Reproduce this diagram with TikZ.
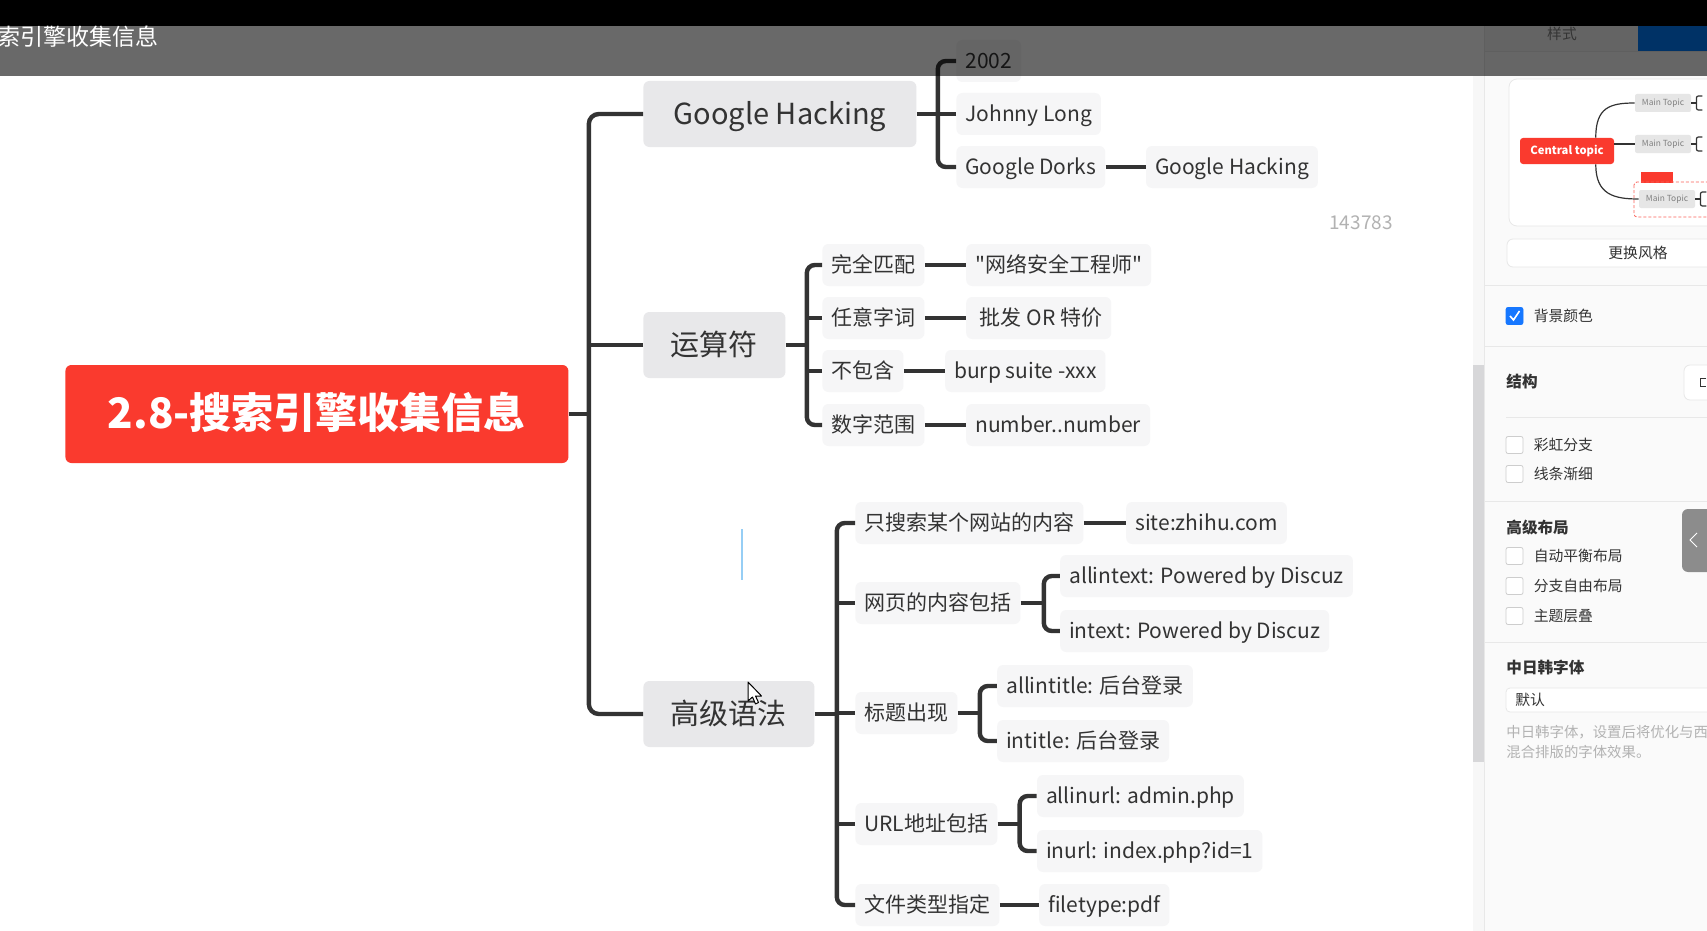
\documentclass[tikz,border=0pt]{standalone}
\usepackage{fontspec}
\setmainfont{Noto Sans CJK SC}[Ligatures=TeXOff]
\usepackage{xcolor}
\usepackage{tikz}
\usetikzlibrary{positioning}

\definecolor{mapred}{RGB}{250,58,46}
\definecolor{topicgray}{RGB}{232,232,234}
\definecolor{subgray}{RGB}{246,246,247}
\definecolor{ink}{RGB}{51,51,51}
\definecolor{panelbg}{RGB}{250,250,250}
\definecolor{panelline}{RGB}{232,232,232}
\definecolor{boxline}{RGB}{205,205,205}
\definecolor{hintgray}{RGB}{178,178,178}
\definecolor{checkblue}{RGB}{22,119,255}
\definecolor{tabblue}{RGB}{0,122,248}
\definecolor{cursorblue}{RGB}{150,206,245}
\definecolor{thumbgray}{RGB}{215,215,217}
\definecolor{minigray}{RGB}{230,230,230}

\begin{document}
\begin{tikzpicture}[x=0.5pt, y=-0.5pt,
    central/.style={fill=mapred, rounded corners=3pt, text=white, font=\fontsize{21}{25}\selectfont\bfseries,
        minimum width=251.5pt, minimum height=49pt, text height=17.9pt, text depth=3.1pt, anchor=west},
    maintopic/.style={fill=topicgray, rounded corners=3pt, text=ink, font=\fontsize{14.5}{17}\selectfont,
        minimum height=33pt, text height=12.3pt, text depth=2.2pt, anchor=west},
    subtopic/.style={fill=subgray, rounded corners=3pt, text=ink, font=\fontsize{10.5}{12}\selectfont,
        inner xsep=4.5pt, minimum height=21pt, text height=8.9pt, text depth=1.6pt, anchor=west},
    branch/.style={draw=ink, line width=2.2pt, rounded corners=4pt},
    paneltext/.style={font=\fontsize{7.4}{9}\selectfont, text=ink, anchor=west, inner sep=0pt},
    panelhead/.style={font=\fontsize{7.8}{9}\selectfont\bfseries, text=ink, anchor=west, inner sep=0pt},
    chkbox/.style={draw=boxline, fill=white, rounded corners=1pt, minimum size=8.5pt, inner sep=0pt},
    minicentral/.style={fill=mapred, rounded corners=1.5pt, text=white, font=\fontsize{5.6}{6}\selectfont\bfseries,
        minimum width=47pt, minimum height=13pt, inner sep=0pt},
    minitopic/.style={fill=minigray, rounded corners=1pt, text=gray, font=\fontsize{4.2}{5}\selectfont,
        minimum width=28pt, minimum height=9pt, inner sep=0pt},
    minilink/.style={draw=ink, line width=0.6pt}]

    \useasboundingbox (0,0) rectangle (1707,931);
    \fill[white] (0,0) rectangle (1707,931);

    % Central topic and main topics
    \node[central] (root) at (65,414) {2.8-搜索引擎收集信息};
    \node[maintopic, minimum width=136.5pt] (gh) at (643,114) {Google Hacking};
    \node[maintopic, minimum width=71pt] (ops) at (643,345) {运算符};
    \node[maintopic, minimum width=85.5pt] (adv) at (643,714) {高级语法};

    \draw[branch] (root.east) -- ++(20,0) coordinate (trunk);
    \draw[branch, rounded corners=5pt] (gh.west) -| (trunk) |- (adv.west);
    \draw[branch] (ops.west) -- (ops.west -| trunk);

    % Google Hacking
    \node[subtopic] (year) at (956,61) {2002};
    \node[subtopic] (author) at (956,114) {Johnny Long};
    \node[subtopic] (dorks) at (956,167) {Google Dorks};
    \node[subtopic, right=20pt of dorks] (dorksv) {Google Hacking};
    \draw[branch] (gh.east) -- ++(21,0) coordinate (ghj);
    \draw[branch] (year.west) -| (ghj) |- (dorks.west);
    \draw[branch] (author.west) -- (author.west -| ghj);
    \draw[branch] (dorks) -- (dorksv);

    % Operators: key / y / name / example
    \foreach \k/\y/\a/\b in {
        1/265/完全匹配/"网络安全工程师",
        2/318/任意字词/\ 批发 OR 特价,
        3/371/不包含/burp suite -xxx,
        4/425/数字范围/number..number
    } {
        \node[subtopic] (op\k) at (822,\y) {\a};
        \node[subtopic, right=20.5pt of op\k] (opv\k) {\b};
        \draw[branch] (op\k) -- (opv\k);
    }
    \draw[branch] (ops.east) -- ++(21,0) coordinate (opsj);
    \draw[branch] (op1.west) -| (opsj) |- (op4.west);
    \draw[branch] (op2.west) -- (op2.west -| opsj);
    \draw[branch] (op3.west) -- (op3.west -| opsj);

    % Advanced syntax
    \node[subtopic] (site) at (855,523) {只搜索某个网站的内容};
    \node[subtopic, right=21pt of site] (sitev) {site:zhihu.com};
    \draw[branch] (site) -- (sitev);

    \node[subtopic] (text) at (855,603) {网页的内容包括};
    \node[subtopic, right=19.5pt of text, yshift=13.5pt] (text1) {allintext: Powered by Discuz};
    \node[subtopic, right=19.5pt of text, yshift=-14pt] (text2) {intext: Powered by Discuz};
    \draw[branch] (text.east) -- ++(23,0) coordinate (textj);
    \draw[branch] (text1.west) -| (textj) |- (text2.west);

    \node[subtopic] (title) at (855,713) {标题出现};
    \node[subtopic, right=19.5pt of title, yshift=13.5pt] (title1) {allintitle: 后台登录};
    \node[subtopic, right=19.5pt of title, yshift=-14pt] (title2) {intitle: 后台登录};
    \draw[branch] (title.east) -- ++(22,0) coordinate (titlej);
    \draw[branch] (title1.west) -| (titlej) |- (title2.west);

    \node[subtopic] (url) at (855,824) {URL地址包括};
    \node[subtopic, right=19.5pt of url, yshift=14pt] (url1) {allinurl: admin.php};
    \node[subtopic, right=19.5pt of url, yshift=-13.5pt] (url2) {inurl: index.php?id=1};
    \draw[branch] (url.east) -- ++(22,0) coordinate (urlj);
    \draw[branch] (url1.west) -| (urlj) |- (url2.west);

    \node[subtopic] (ftype) at (855,905) {文件类型指定};
    \node[subtopic, right=19.5pt of ftype] (ftypev) {filetype:pdf};
    \draw[branch] (ftype) -- (ftypev);

    \draw[branch] (adv.east) -- ++(22,0) coordinate (advj);
    \draw[branch] (site.west) -| (advj) |- (ftype.west);
    \draw[branch] (text.west) -- (text.west -| advj);
    \draw[branch] (title.west) -- (title.west -| advj);
    \draw[branch] (url.west) -- (url.west -| advj);

    % Stray marks on the canvas
    \node[font=\fontsize{9.5}{11}\selectfont, text=hintgray] (count) at (1361,223) {143783};
    \draw[cursorblue, line width=1.1pt] (742,529) -- (742,580);
    \filldraw[fill=white, draw=black, line width=0.5pt, line join=round]
        (748,682) -- (748,701) -- (752.5,697) -- (755.5,704) -- (758.5,702.5)
        -- (755.5,696) -- (761.5,696) -- cycle;

    % Side panel
    \fill[panelbg] (1484,26) rectangle (1707,931);
    \fill[black!4] (1484,26) rectangle (1707,51);
    \fill[tabblue] (1638,26) rectangle (1707,51);
    \node[font=\fontsize{7.4}{9}\selectfont, text=gray] (tabstyle) at (1562,34) {样式};
    \draw[panelline] (1484,51) -- (1707,51);
    \fill[black!3] (1473,76) rectangle (1484,931);
    \fill[thumbgray] (1473,365) rectangle (1484,762);
    \draw[panelline] (1484,26) -- (1484,931);

    % Style preview card
    \filldraw[fill=white, draw=panelline, rounded corners=4pt] (1509,79) rectangle (1720,226);
    \node[minicentral] (mc) at (1567,151) {Central topic};
    \node[minitopic] (mt1) at (1663,103) {Main Topic};
    \node[minitopic] (mt2) at (1663,144) {Main Topic};
    \node[minitopic] (mt3) at (1667,199) {Main Topic};
    \draw[minilink] (mc.25) .. controls +(0,-30) and +(-25,0) .. (mt1.west);
    \draw[minilink] (mt2.west) -- (mt2.west -| mc.east);
    \draw[minilink] (mc.-25) .. controls +(0,30) and +(-25,0) .. (mt3.west);
    \fill[mapred] (1641,172) rectangle (1673,183);
    \draw[mapred!80, dash pattern=on 1.5pt off 1pt, line width=0.4pt, rounded corners=1.5pt]
        (1634,182) rectangle (1720,217);
    \foreach \m in {1,2,3} {
        \draw[minilink] (mt\m.east) -- ++(5,0) coordinate (mb\m);
        \draw[minilink, rounded corners=1pt] (mb\m) ++(6,-7) -- ++(-6,0) -- ++(0,14) -- ++(6,0);
    }

    % Panel controls
    \filldraw[fill=white, draw=panelline, rounded corners=3pt] (1507,239) rectangle (1720,267);
    \node[paneltext, anchor=center] (restyle) at (1638,253) {更换风格};
    \draw[panelline] (1484,285) -- (1707,285);

    \node[chkbox, fill=checkblue, draw=checkblue] (bgcheck) at (1514.5,316) {};
    \draw[white, line width=0.8pt] (1510,316) -- (1513.5,320) -- (1519.5,311);
    \node[paneltext, right=5pt of bgcheck] (bglabel) {背景颜色};
    \draw[panelline] (1484,346) -- (1707,346);

    \node[panelhead] (struct) at (1506,382) {结构};
    \filldraw[fill=white, draw=panelline, rounded corners=3pt] (1684,365) rectangle (1720,400);
    \draw[ink, line width=0.5pt] (1706,378) -| (1700,386) -- (1706,386);
    \draw[panelline] (1506,417) -- (1707,417);

    \foreach \k/\y/\t in {1/445/彩虹分支, 2/474/线条渐细, 3/556/自动平衡布局, 4/586/分支自由布局, 5/616/主题层叠} {
        \node[chkbox] (cb\k) at (1514.5,\y) {};
        \node[paneltext, right=5pt of cb\k] (cbl\k) {\t};
    }
    \draw[panelline] (1484,501) -- (1707,501);
    \node[panelhead] (layout) at (1506,528) {高级布局};
    \fill[gray!90, rounded corners=3pt] (1682,509) rectangle (1720,572);
    \draw[white, line width=0.5pt] (1697,533) -- (1690,540) -- (1697,547);

    \draw[panelline] (1484,642) -- (1707,642);
    \node[panelhead] (cjkhead) at (1506,668) {中日韩字体};
    \filldraw[fill=white, draw=panelline, rounded corners=2pt] (1506,688) rectangle (1720,712);
    \node[paneltext] (cjkval) at (1515,700) {默认};
    \node[paneltext, text=hintgray, font=\fontsize{7.2}{9}\selectfont] (hint1) at (1506,732) {中日韩字体，设置后将优化与西};
    \node[paneltext, text=hintgray, font=\fontsize{7.2}{9}\selectfont] (hint2) at (1506,752) {混合排版的字体效果。};

    % Title bar overlay
    \fill[black, fill opacity=0.59] (0,26) rectangle (1707,76);
    \fill[black] (0,0) rectangle (1707,26);
    \node[font=\fontsize{11.5}{13}\selectfont, text=white, anchor=west, inner sep=0pt] (doctitle) at (-3,37) {索引擎收集信息};
\end{tikzpicture}
\end{document}
